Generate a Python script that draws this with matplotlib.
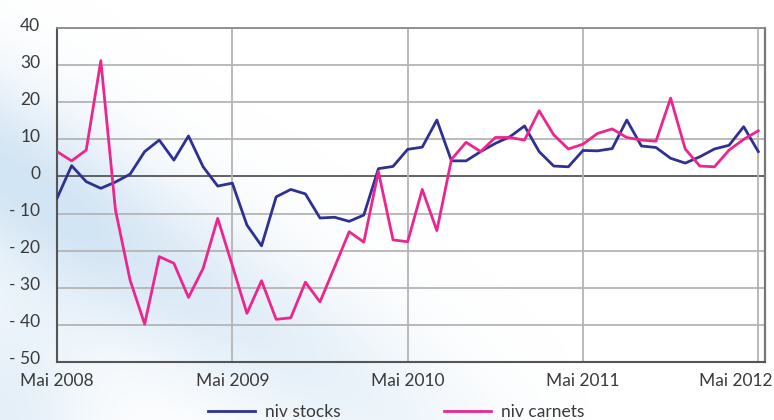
import numpy as np
import matplotlib
matplotlib.use('Agg')
import matplotlib.pyplot as plt
import matplotlib.transforms as mtransforms
from matplotlib.colors import LinearSegmentedColormap

plt.rcParams['font.family'] = ['Lato', 'DejaVu Sans']

# monthly values, Mai 2008 .. Mai 2012
stocks = [-5.9, 2.9, -1.4, -3.2, -1.5, 0.6, 6.7, 9.8, 4.4, 10.9, 2.6, -2.6,
          -1.8, -13.1, -18.7, -5.5, -3.5, -4.7, -11.2, -11.0, -12.1, -10.4, 2.1, 2.7,
          7.3, 7.9, 15.2, 4.2, 4.2, 6.7, 8.9, 10.7, 13.6, 6.7, 2.8, 2.6,
          7.0, 6.9, 7.5, 15.2, 8.2, 7.8, 4.9, 3.6, 5.3, 7.4, 8.4, 13.4, 6.7]
carnets = [6.7, 4.2, 7.1, 31.2, -9.0, -27.9, -39.8, -21.6, -23.4, -32.6, -24.8, -11.3,
           -24.0, -36.9, -28.1, -38.5, -38.1, -28.5, -33.8, -24.4, -14.9, -17.7, 1.3, -17.1,
           -17.6, -3.5, -14.6, 4.6, 9.2, 6.7, 10.5, 10.5, 9.8, 17.7, 11.2, 7.4,
           8.7, 11.6, 12.8, 10.5, 9.8, 9.5, 21.1, 7.4, 2.8, 2.6, 7.1, 10.0, 12.3]
months = np.arange(len(stocks))

xtick_pos = [0, 12, 24, 36, 48]
xtick_labels = ['Mai 2008', 'Mai 2009', 'Mai 2010', 'Mai 2011', 'Mai 2012']
ytick_pos = [40, 30, 20, 10, 0, -10, -20, -30, -40, -50]
ytick_labels = ['40', '30', '20', '10', '0', '- 10', '- 20', '- 30', '- 40', '- 50']

fig = plt.figure(figsize=(7.74, 4.2), dpi=100)

# soft blue diagonal haze in the background
bg = fig.add_axes([0, 0, 1, 1], zorder=-10)
yy, xx = np.mgrid[0:420, 0:774]
d = xx * 0.6 + (420 - yy) * 1.0 - 250
haze = np.exp(-(d / 95.0) ** 2) * np.clip(1.15 - xx / 520.0, 0, 1)
corner = np.exp(-((xx / 90.0) ** 2 + ((420 - yy) / 130.0) ** 2))
haze = np.clip(haze + 0.6 * corner, 0, 1)
cmap = LinearSegmentedColormap.from_list('haze', ['#ffffff', '#d3e5f4'])
bg.imshow(haze, cmap=cmap, aspect='auto', interpolation='bilinear', vmin=0, vmax=1)
bg.axis('off')

ax = fig.add_axes([57 / 774, 1 - 362 / 420, (765 - 57) / 774, (362 - 28) / 420])
ax.set_facecolor('none')

for yv in ytick_pos:
    if yv == 0:
        ax.axhline(yv, color='#555555', lw=1.3, zorder=1)
    else:
        ax.axhline(yv, color='#b4b4b4', lw=1.3, zorder=1)
for xv in xtick_pos[1:]:
    ax.axvline(xv, color='#b4b4b4', lw=1.3, zorder=1)

ax.plot(months, stocks, color='#2e3192', lw=2.0, label='niv stocks', zorder=3)
ax.plot(months, carnets, color='#ec268f', lw=2.0, label='niv carnets', zorder=3)

ax.set_xlim(0, 48.46)
ax.set_ylim(-50, 40)

ax.set_xticks(xtick_pos)
ax.set_xticklabels(xtick_labels)
ax.set_yticks(ytick_pos)
ax.set_yticklabels(ytick_labels)
ax.tick_params(length=0, labelsize=12.5, colors='#3a3a3a')
ax.tick_params(axis='x', pad=8)
ax.tick_params(axis='y', pad=12)
shift = mtransforms.ScaledTranslation(0, 4 / 100, fig.dpi_scale_trans)
for lab in ax.get_yticklabels():
    lab.set_transform(lab.get_transform() + shift)
last = ax.get_xticklabels()[-1]
last.set_transform(last.get_transform() +
                   mtransforms.ScaledTranslation(-0.23, 0, fig.dpi_scale_trans))

for side in ['left', 'bottom']:
    ax.spines[side].set_color('#555555')
    ax.spines[side].set_linewidth(1.5)
ax.spines['top'].set_color('#8a8a8a')
ax.spines['top'].set_linewidth(1.3)
ax.spines['right'].set_color('#777777')
ax.spines['right'].set_linewidth(1.6)

fig.legend(loc='center', bbox_to_anchor=(0.512, 0.018), ncol=2, frameon=False,
           fontsize=12.5, handlelength=2.7, handletextpad=0.55, columnspacing=6.0,
           labelcolor='#3a3a3a')

fig.savefig('out.png', dpi=100)
